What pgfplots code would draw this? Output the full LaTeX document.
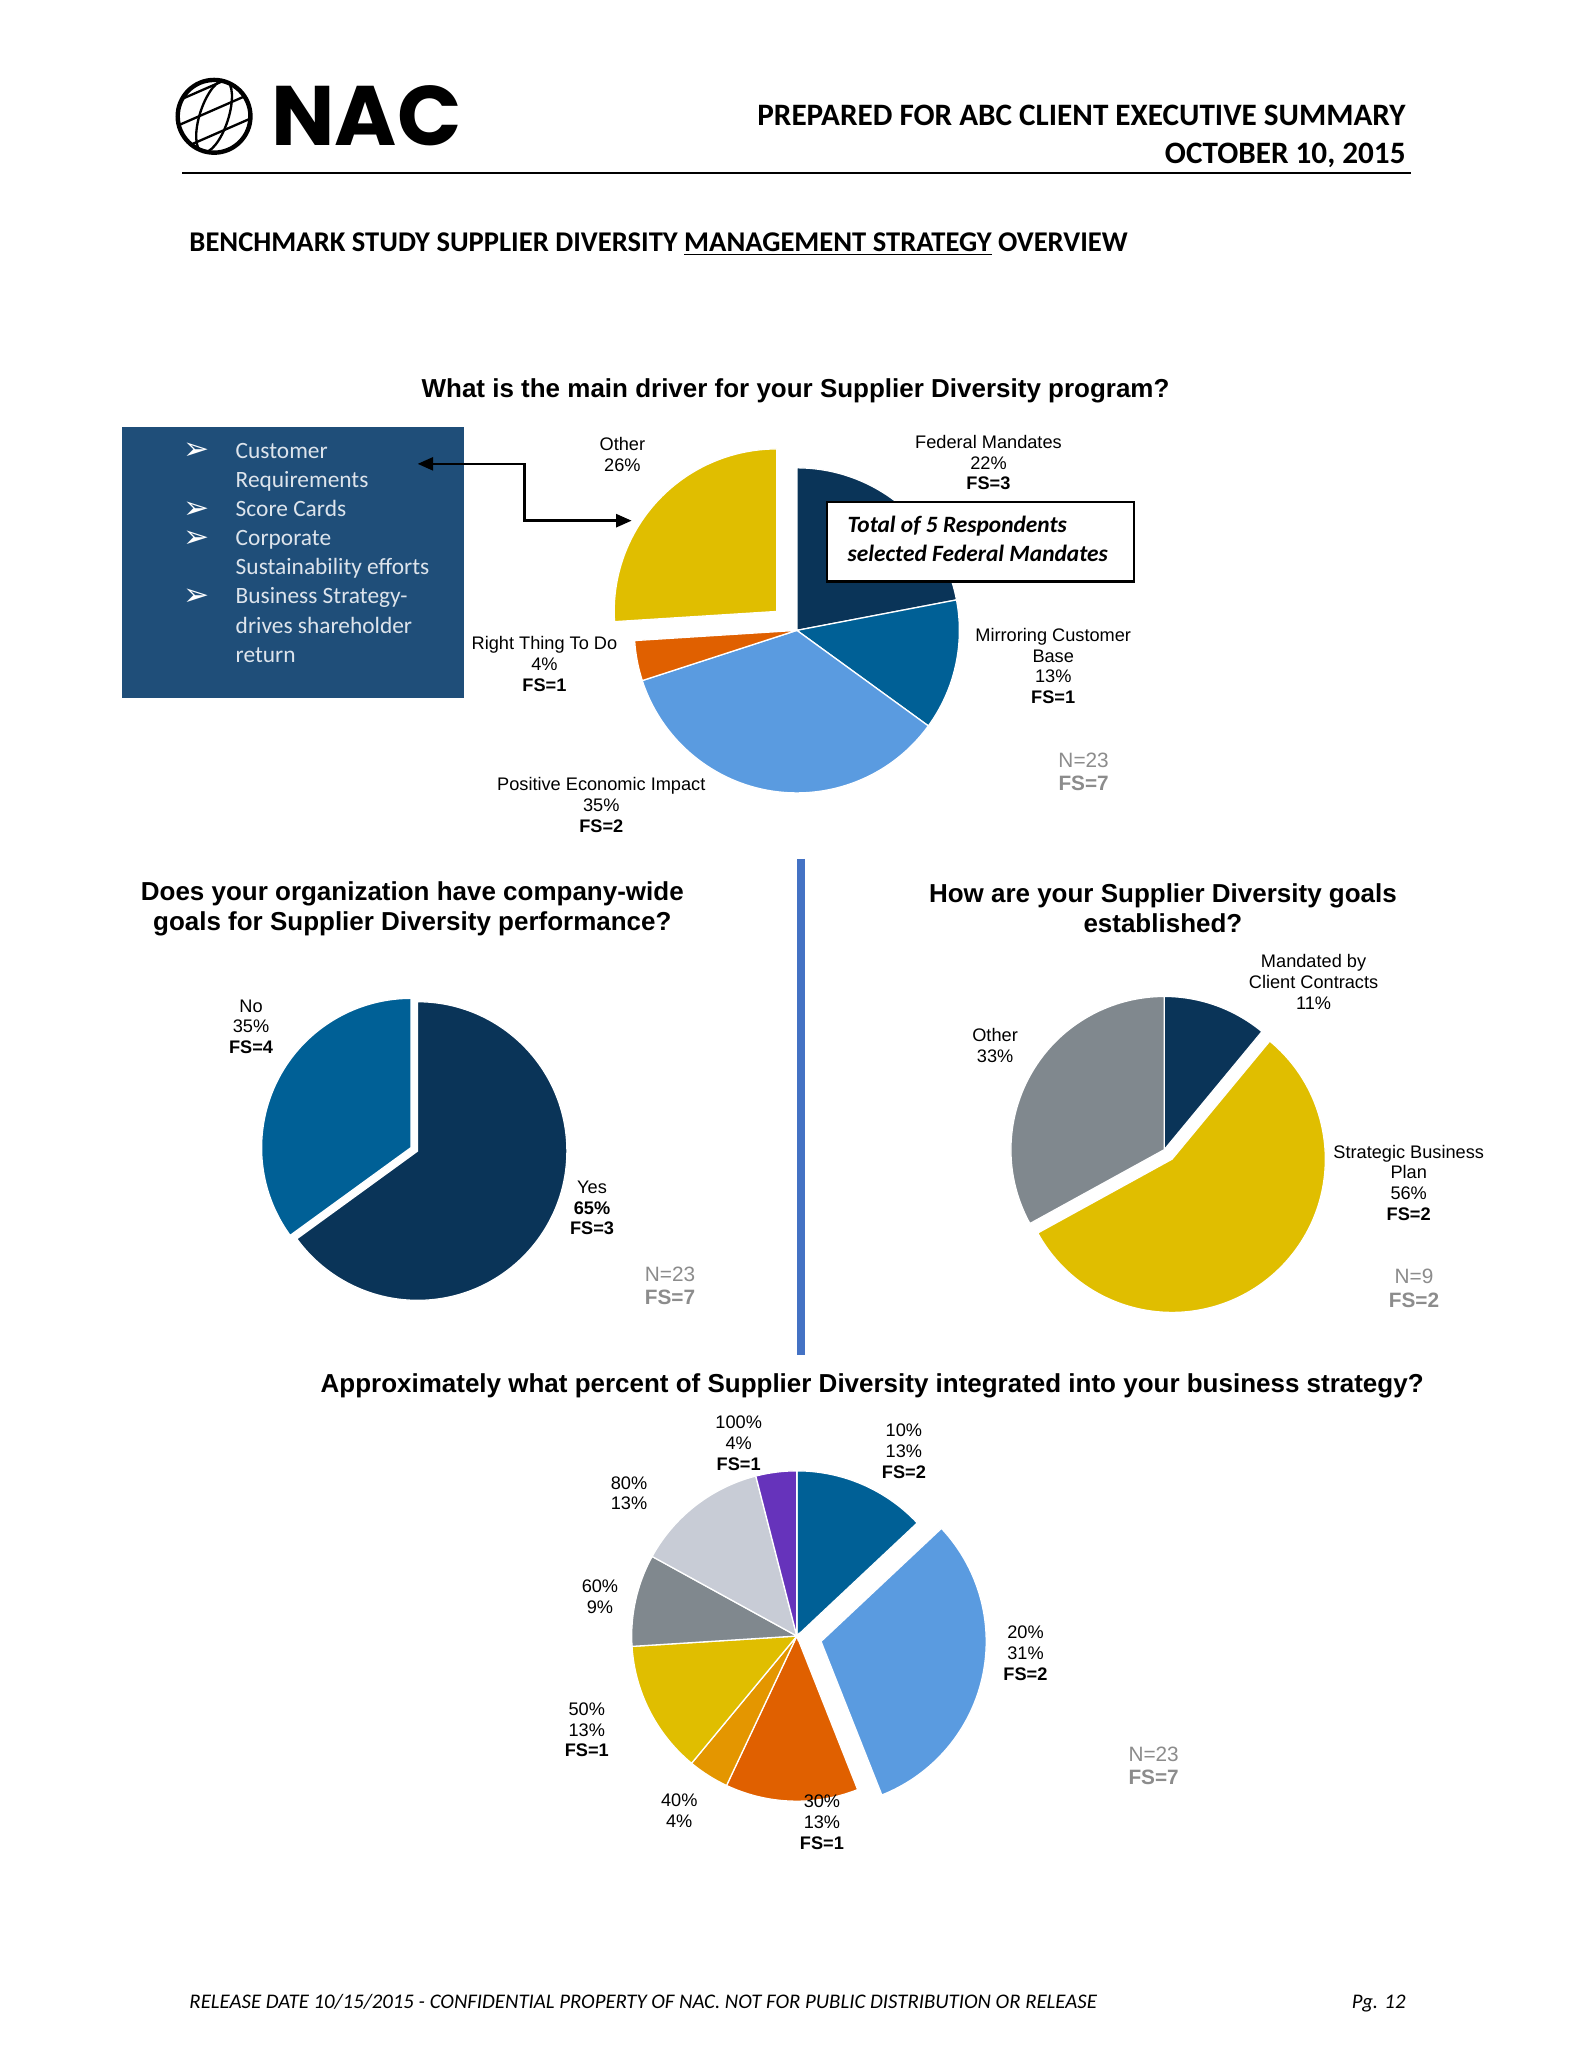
\documentclass[border=0pt]{standalone}
\usepackage{pgfplots}
\pgfplotsset{compat=1.18}
\usepackage{fontspec}
\setmainfont{Liberation Sans}
\newfontfamily\calibri{Carlito}
\newfontfamily\poppins{Poppins}
\newfontfamily\dejavu{DejaVu Sans}
\usetikzlibrary{arrows.meta}

\definecolor{cnavy}{HTML}{0A3458}
\definecolor{cmid}{HTML}{006096}
\definecolor{clight}{HTML}{5A9BE0}
\definecolor{corange}{HTML}{E06000}
\definecolor{cyellow}{HTML}{E0BE00}
\definecolor{cgold}{HTML}{E49600}
\definecolor{cgray}{HTML}{80888E}
\definecolor{clgray}{HTML}{C8CCD6}
\definecolor{cpurple}{HTML}{6633BB}
\definecolor{boxblue}{HTML}{1F4E79}
\definecolor{boxtext}{HTML}{DDE4EC}
\definecolor{ngray}{HTML}{8C8C8C}
\definecolor{divblue}{HTML}{4472C4}

\newlength\ul
\setlength\ul{0.50865pt}

% #1,#2 centre (units), #3 radius (units), #4 list value/colour/explode
\newcommand{\pie}[4]{%
\pgfmathsetlengthmacro\pcx{#1*\ul}%
\pgfmathsetlengthmacro\pcy{-#2*\ul}%
\pgfmathsetlengthmacro\prad{#3*\ul}%
\begin{axis}[at={(\pcx,\pcy)},anchor=origin,x=\prad,y=\prad,
  xmin=-1.3,xmax=1.3,ymin=-1.3,ymax=1.3,hide axis,clip=false]
\addplot[draw=none] coordinates {(0,0)};
\gdef\curang{90}%
\foreach \v/\c/\e in {#4} {
  \pgfmathsetmacro\a{\curang}
  \pgfmathsetmacro\b{\a-3.6*\v}
  \pgfmathsetmacro\m{(\a+\b)/2}
  \pgfmathsetmacro\ox{\e*cos(\m)}
  \pgfmathsetmacro\oy{\e*sin(\m)}
  \pgfmathsetmacro\sx{\ox+cos(\a)}
  \pgfmathsetmacro\sy{\oy+sin(\a)}
  \edef\slice{\noexpand\fill[\c,draw=white,line width=0.5pt] (axis cs:\ox,\oy) -- (axis cs:\sx,\sy) arc[start angle=\a,end angle=\b,radius=\prad] -- cycle;}
  \slice
  \xdef\curang{\b}
}
\end{axis}}

\newcommand\lbl[3]{\node[align=center,inner sep=0,font=\fontsize{7}{8}\selectfont] at (#1,#2) {#3};}
\newcommand\nlbl[3]{\node[align=center,inner sep=0,text=ngray,font=\fontsize{8}{9}\selectfont] at (#1,#2) {#3};}

\begin{document}
\begin{tikzpicture}[x=\ul,y=-\ul]
\fill[white] (0,0) rectangle (1203.2,1564.9);

% ---------- header ----------
\draw[line width=1.7pt] (162,88) circle[radius=14pt];
\begin{scope}
\clip (162,88) circle[radius=14pt];
\draw[line width=0.9pt] (162,88) ellipse[x radius=5.5pt, y radius=14.5pt, rotate=-18];
\draw[line width=0.9pt] (130,97) -- (194,69);
\draw[line width=0.9pt] (134,114) -- (198,86);
\draw[line width=0.9pt] (126,80) -- (190,52);
\end{scope}
\node[anchor=base west,inner sep=0,font=\poppins\bfseries\fontsize{32.5}{33}\selectfont] at (205,110) {NAC};
\node[anchor=base east,inner sep=0,font=\calibri\bfseries\fontsize{12}{14}\selectfont] at (1064,95) {PREPARED FOR ABC CLIENT EXECUTIVE SUMMARY};
\node[anchor=base east,inner sep=0,font=\calibri\bfseries\fontsize{12}{14}\selectfont] at (1064,124) {OCTOBER 10, 2015};
\draw[line width=1pt] (138,131) -- (1068,131);
\node[anchor=base west,inner sep=0,font=\calibri\bfseries\fontsize{11}{13}\selectfont] at (143,190) {BENCHMARK STUDY SUPPLIER DIVERSITY \underline{MANAGEMENT STRATEGY} OVERVIEW};

% ---------- chart 1 ----------
\node[inner sep=0,font=\bfseries\fontsize{10}{12}\selectfont] at (602,296) {What is the main driver for your Supplier Diversity program?};
\fill[boxblue] (92,323) rectangle (351,528);
\foreach \yy in {341,385,407,451}
  \node[anchor=base,inner sep=0,text=white,font=\dejavu\fontsize{12}{13}\selectfont] at (149,\yy+7) {➢};
\foreach \yy/\tt in {341/Customer,363/Requirements,385/Score Cards,407/Corporate,429/Sustainability efforts,451/Business Strategy-,473/drives shareholder,495/return}
  \node[anchor=base west,inner sep=0,text=boxtext,font=\calibri\fontsize{9}{11}\selectfont] at (178,\yy+6) {\tt};
\pie{603}{477}{123}{22/cnavy/0,13/cmid/0,35/clight/0,4/corange/0,26/cyellow/0.17}
\draw[line width=1pt,{Triangle[length=6pt,width=5pt]}-{Triangle[length=6pt,width=5pt]}] (316,351) -- (397,351) -- (397,394) -- (478,394);
\draw[fill=white,line width=0.8pt] (626,380) rectangle (858,440);
\node[anchor=base west,inner sep=0,font=\calibri\bfseries\itshape\fontsize{9}{11}\selectfont] at (641,403) {Total of 5 Respondents};
\node[anchor=base west,inner sep=0,font=\calibri\bfseries\itshape\fontsize{9}{11}\selectfont] at (641,425) {selected Federal Mandates};
\lbl{471}{344}{Other\\26\%}
\lbl{748}{350}{Federal Mandates\\22\%\\\textbf{FS=3}}
\lbl{797}{504}{Mirroring Customer\\Base\\13\%\\\textbf{FS=1}}
\lbl{412}{502.5}{Right Thing To Do\\4\%\\\textbf{FS=1}}
\lbl{455}{609}{Positive Economic Impact\\35\%\\\textbf{FS=2}}
\nlbl{820}{584}{N=23\\\textbf{FS=7}}

% ---------- divider ----------
\draw[divblue,line width=3pt] (606,650) -- (606,1025);

% ---------- chart 2 ----------
\node[align=center,inner sep=0,font=\bfseries\fontsize{10}{11.5}\selectfont] at (312,687.5) {Does your organization have company-wide\\goals for Supplier Diversity performance?};
\pie{316}{871}{113}{65/cnavy/0,35/cmid/0.05}
\lbl{190}{777}{No\\35\%\\\textbf{FS=4}}
\lbl{448}{914}{Yes\\\textbf{65\%}\\\textbf{FS=3}}
\nlbl{507}{973}{N=23\\\textbf{FS=7}}

% ---------- chart 3 ----------
\node[align=center,inner sep=0,font=\bfseries\fontsize{10}{11.5}\selectfont] at (880,687.5) {How are your Supplier Diversity goals\\established?};
\pie{881}{870}{116}{11/cnavy/0,56/cyellow/0.08,33/cgray/0}
\lbl{994}{743}{Mandated by\\Client Contracts\\11\%}
\lbl{753}{791}{Other\\33\%}
\lbl{1066}{895}{Strategic Business\\Plan\\56\%\\\textbf{FS=2}}
\nlbl{1070}{975}{N=9\\\textbf{FS=2}}

% ---------- chart 4 ----------
\node[inner sep=0,font=\bfseries\fontsize{10}{12}\selectfont] at (660,1049) {Approximately what percent of Supplier Diversity integrated into your business strategy?};
\pie{603}{1238}{125}{13/cmid/0,31/clight/0.15,13/corange/0,4/cgold/0,13/cyellow/0,9/cgray/0,13/clgray/0,4/cpurple/0}
\lbl{559}{1092}{100\%\\4\%\\\textbf{FS=1}}
\lbl{684}{1098}{10\%\\13\%\\\textbf{FS=2}}
\lbl{476}{1130}{80\%\\13\%}
\lbl{454}{1208}{60\%\\9\%}
\lbl{444}{1309}{50\%\\13\%\\\textbf{FS=1}}
\lbl{514}{1370}{40\%\\4\%}
\lbl{622}{1379}{30\%\\13\%\\\textbf{FS=1}}
\lbl{776}{1251}{20\%\\31\%\\\textbf{FS=2}}
\nlbl{873}{1336}{N=23\\\textbf{FS=7}}

% ---------- footer ----------
\node[anchor=base west,inner sep=0,font=\calibri\itshape\fontsize{8}{9.5}\selectfont] at (143,1520) {RELEASE DATE 10/15/2015 - CONFIDENTIAL PROPERTY OF NAC. NOT FOR PUBLIC DISTRIBUTION OR RELEASE};
\node[anchor=base east,inner sep=0,font=\calibri\itshape\fontsize{8}{9.5}\selectfont] at (1064,1520) {Pg. 12};

\pgfresetboundingbox
\useasboundingbox (0,0) rectangle (1203.2,1564.9);
\end{tikzpicture}
\end{document}
